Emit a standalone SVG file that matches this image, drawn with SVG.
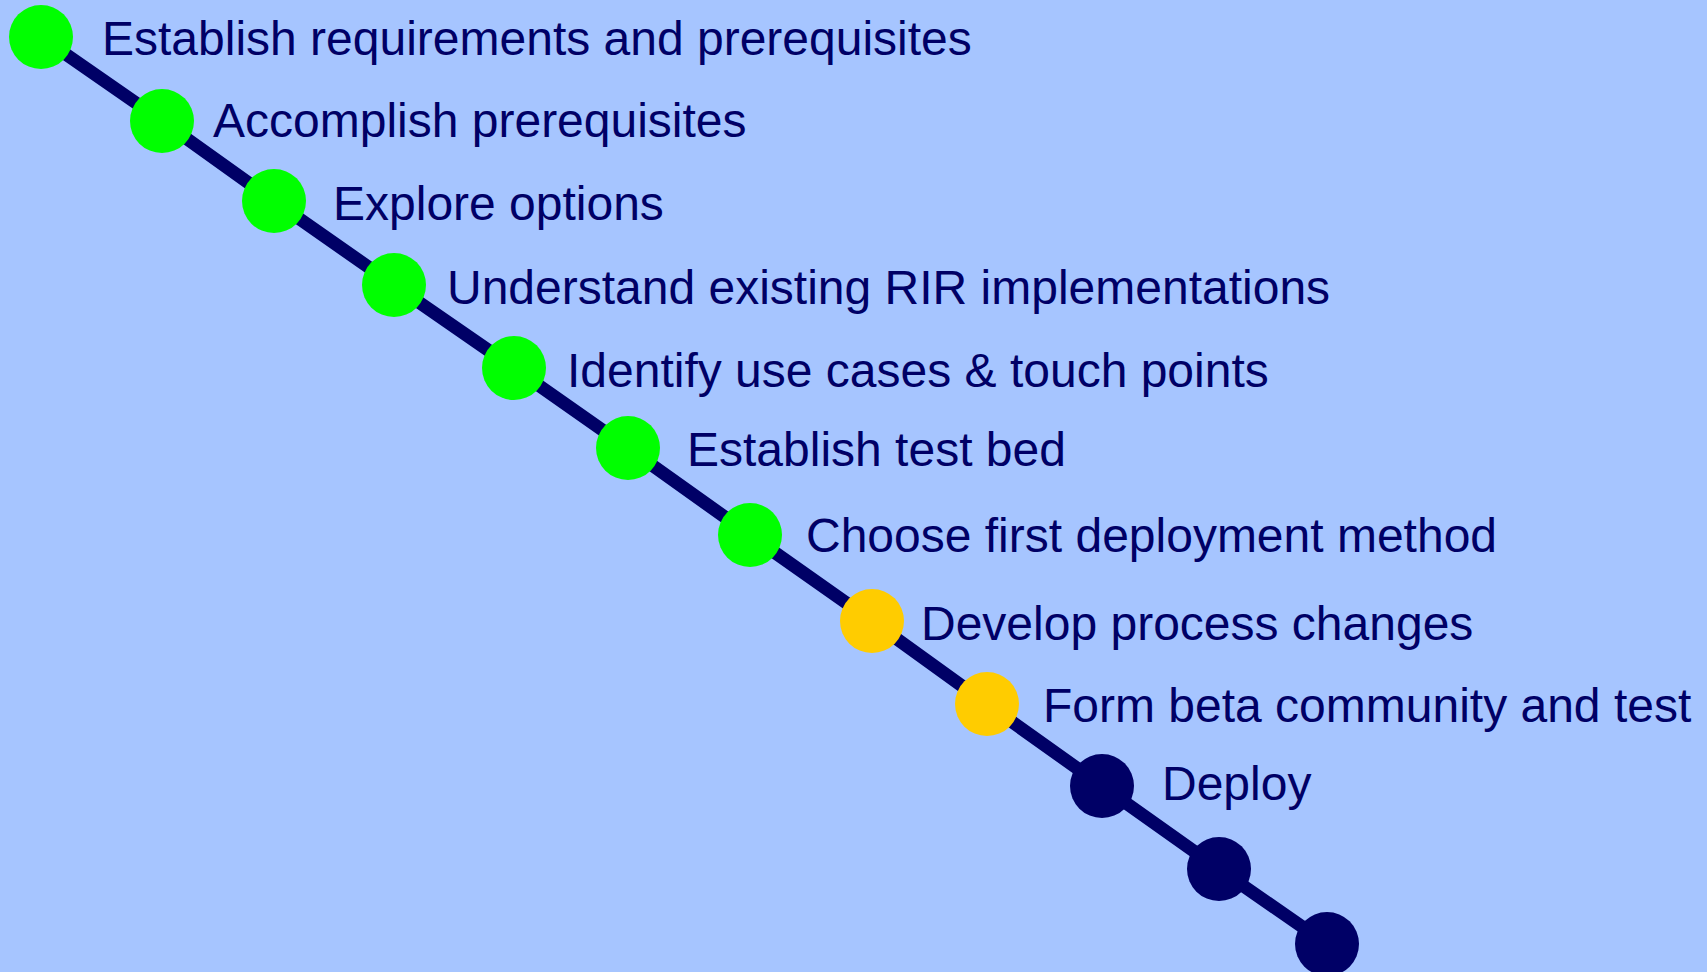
<svg xmlns="http://www.w3.org/2000/svg" width="1707" height="972" viewBox="0 0 1707 972">
<style>
.lbl{font-family:"Liberation Sans",Arial,sans-serif;font-size:48px;fill:#000066}
.done{fill:#00ff00}
.prog{fill:#ffcc00}
.todo{fill:#000066}
.conn{fill:none;stroke:#000066;stroke-width:13;stroke-linejoin:round}
</style>
<rect x="0" y="0" width="1707" height="972" fill="#a6c5ff"/>
<g id="connectors">
<polyline class="conn" points="41,37 162,121 274,201 394,285 514,368 628,448 750,535 872,621 987,704 1102,786 1219,869 1327,944"/>
</g>
<g id="n1"><circle class="done" cx="41" cy="37" r="32"/><text class="lbl" x="102" y="55">Establish requirements and prerequisites</text></g>
<g id="n2"><circle class="done" cx="162" cy="121" r="32"/><text class="lbl" x="213" y="137">Accomplish prerequisites</text></g>
<g id="n3"><circle class="done" cx="274" cy="201" r="32"/><text class="lbl" x="333" y="220">Explore options</text></g>
<g id="n4"><circle class="done" cx="394" cy="285" r="32"/><text class="lbl" x="447" y="304">Understand existing RIR implementations</text></g>
<g id="n5"><circle class="done" cx="514" cy="368" r="32"/><text class="lbl" x="567" y="387">Identify use cases &amp; touch points</text></g>
<g id="n6"><circle class="done" cx="628" cy="448" r="32"/><text class="lbl" x="687" y="466">Establish test bed</text></g>
<g id="n7"><circle class="done" cx="750" cy="535" r="32"/><text class="lbl" x="806" y="552">Choose first deployment method</text></g>
<g id="n8"><circle class="prog" cx="872" cy="621" r="32"/><text class="lbl" x="921" y="640">Develop process changes</text></g>
<g id="n9"><circle class="prog" cx="987" cy="704" r="32"/><text class="lbl" x="1043" y="722">Form beta community and test</text></g>
<g id="n10"><circle class="todo" cx="1102" cy="786" r="32"/><text class="lbl" x="1162" y="800">Deploy</text></g>
<g id="n11"><circle class="todo" cx="1219" cy="869" r="32"/></g>
<g id="n12"><circle class="todo" cx="1327" cy="944" r="32"/></g>
</svg>
